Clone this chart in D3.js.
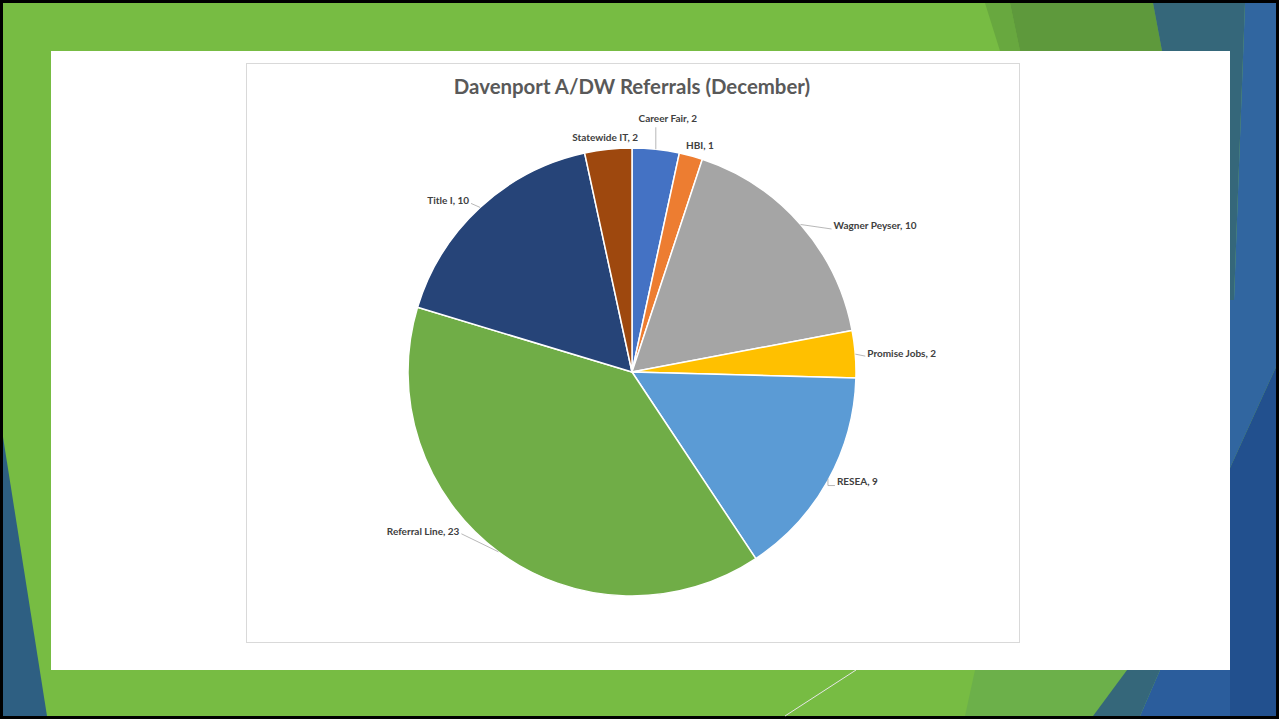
<!DOCTYPE html>
<html>
<head>
<meta charset="utf-8">
<script src="https://cdn.jsdelivr.net/npm/d3@7"></script>
<style>
  html, body { margin: 0; padding: 0; background: #000; }
  svg { display: block; }
</style>
</head>
<body>
<svg id="slide" width="1279" height="719"></svg>
<script>
// chart data
const categories = ["Career Fair", "HBI", "Wagner Peyser", "Promise Jobs", "RESEA", "Referral Line", "Title I", "Statewide IT"];
const values = [2, 1, 10, 2, 9, 23, 10, 2];
const colors = ["#4472c4", "#ed7d31", "#a5a5a5", "#ffc000", "#5b9bd5", "#70ad47", "#264478", "#9e480e"];
const chartTitle = "Davenport A/DW Referrals (December)";

// label placement relative to the slice's outer edge point (Excel "best fit" look)
const labelLayout = {
  "Career Fair":   { dx: 12,  dy: -31, anchor: "middle", line: "v", lx: 0, ly: -22 },
  "HBI":           { dx: -5,  dy: -10, anchor: "start" },
  "Wagner Peyser": { dx: 33,  dy: 0.5, anchor: "start", line: "s", lx: 31, ly: 4.5 },
  "Promise Jobs":  { dx: 12,  dy: -1,  anchor: "start", line: "s", lx: 10, ly: 2 },
  "RESEA":         { dx: 9,   dy: 1,   anchor: "start", line: "l", lx: 7, ly: 5 },
  "Referral Line": { dx: -39, dy: -20, anchor: "end", line: "s", lx: -37, ly: -18 },
  "Title I":       { dx: -11, dy: -7,  anchor: "end", line: "s", lx: -9, ly: -4 },
  "Statewide IT":  { dx: -3,  dy: -12, anchor: "middle" }
};

const svg = d3.select("#slide");

// slide background
const bg = svg.append("g");
bg.append("rect").attr("x", 3).attr("y", 3).attr("width", 1273).attr("height", 713).attr("fill", "#77bc43");
const shapes = [
  { fill: "#68a83f", pts: [[985, 3], [1010, 3], [1020, 51], [1000, 51]] },
  { fill: "#5e993c", pts: [[1010, 3], [1153, 3], [1162, 51], [1020, 51]] },
  { fill: "#35677a", pts: [[1153, 3], [1245, 3], [1234, 300], [1230, 300], [1230, 51], [1162, 51]] },
  { fill: "#3166a0", pts: [[1245, 3], [1276, 3], [1276, 367], [1230, 468], [1230, 300], [1234, 300]] },
  { fill: "#22508e", pts: [[1276, 367], [1276, 716], [1230, 716], [1230, 468]] },
  { fill: "#6cb04a", pts: [[975, 670], [1127, 670], [1093, 716], [965, 716]] },
  { fill: "#35677a", pts: [[1127, 670], [1160, 670], [1140, 716], [1093, 716]] },
  { fill: "#2b5d9c", pts: [[1160, 670], [1230, 670], [1230, 716], [1140, 716]] },
  { fill: "#2e5f82", pts: [[3, 437], [47, 716], [3, 716]] }
];
bg.selectAll("polygon.shape")
  .data(shapes)
  .enter().append("polygon")
  .attr("class", "shape")
  .attr("points", d => d.pts.map(p => p.join(",")).join(" "))
  .attr("fill", d => d.fill);
bg.append("line")
  .attr("x1", 785).attr("y1", 716).attr("x2", 856).attr("y2", 670)
  .attr("stroke", "#e6e6e6").attr("stroke-width", 1);

// white content panel
svg.append("rect")
  .attr("x", 51).attr("y", 51).attr("width", 1179).attr("height", 619)
  .attr("fill", "#ffffff");

// chart area frame
svg.append("rect")
  .attr("x", 246.5).attr("y", 63.5).attr("width", 773).attr("height", 579)
  .attr("fill", "#ffffff").attr("stroke", "#d9d9d9").attr("stroke-width", 1);

svg.append("text")
  .attr("x", 632).attr("y", 94)
  .attr("text-anchor", "middle")
  .attr("font-family", "Lato, 'Open Sans', sans-serif")
  .attr("font-weight", "bold")
  .attr("font-size", 20.4)
  .attr("fill", "#595959")
  .text(chartTitle);

// pie
const cx = 632, cy = 372, radius = 224;
const data = categories.map((c, i) => ({ name: c, value: values[i], color: colors[i] }));

const pie = d3.pie().sort(null).value(d => d.value);
const arcs = pie(data);
const arc = d3.arc().innerRadius(0).outerRadius(radius);

const g = svg.append("g").attr("transform", `translate(${cx},${cy})`);

g.selectAll("path.slice")
  .data(arcs)
  .enter().append("path")
  .attr("class", "slice")
  .attr("d", arc)
  .attr("fill", d => d.data.color)
  .attr("stroke", "#ffffff")
  .attr("stroke-width", 1.5)
  .attr("stroke-linejoin", "round");

// edge point at the mid angle of each slice
function edge(d) {
  const a = (d.startAngle + d.endAngle) / 2;
  return [radius * Math.sin(a), -radius * Math.cos(a)];
}

const labels = g.selectAll("g.label")
  .data(arcs)
  .enter().append("g")
  .attr("class", "label");

labels.each(function(d) {
  const lay = labelLayout[d.data.name];
  const [ex, ey] = edge(d);
  const sel = d3.select(this);
  if (lay.line) {
    let path;
    if (lay.line === "v") path = `M${ex},${ey}V${ey + lay.ly}`;
    else if (lay.line === "l") path = `M${ex},${ey - 2}V${ey + lay.ly}H${ex + lay.lx}`;
    else path = `M${ex},${ey}L${ex + lay.lx},${ey + lay.ly}`;
    sel.append("path")
      .attr("d", path)
      .attr("fill", "none")
      .attr("stroke", "#a6a6a6")
      .attr("stroke-width", 0.8);
  }
  sel.append("text")
    .attr("x", ex + lay.dx)
    .attr("y", ey + lay.dy)
    .attr("dy", "0.35em")
    .attr("text-anchor", lay.anchor)
    .attr("font-family", "Lato, 'Open Sans', sans-serif")
    .attr("font-weight", "bold")
    .attr("font-size", 10)
    .attr("fill", "#404040")
    .text(`${d.data.name}, ${d.data.value}`);
});
</script>
</body>
</html>
